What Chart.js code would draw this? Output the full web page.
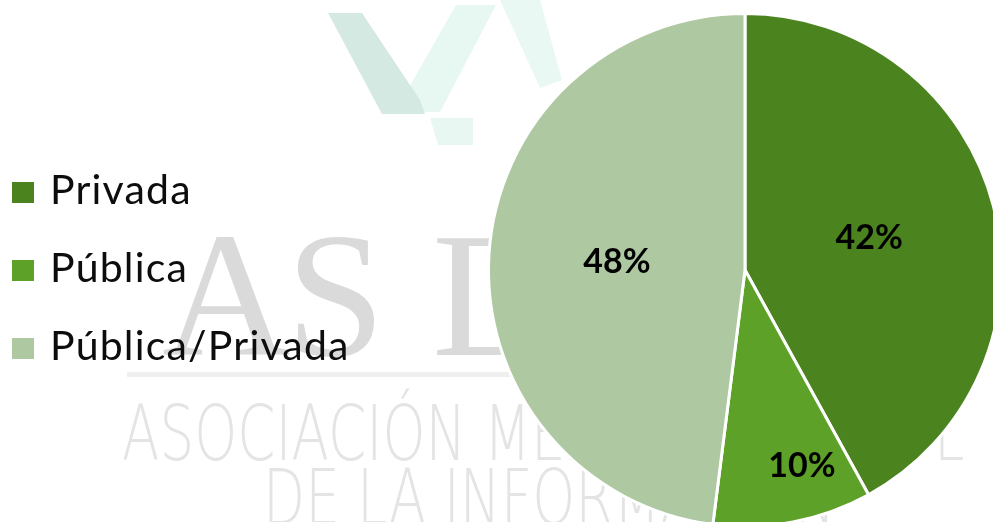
<!DOCTYPE html>
<html>
<head>
<meta charset="utf-8">
<script src="https://cdn.jsdelivr.net/npm/chart.js@4.4.1/dist/chart.umd.min.js"></script>
<style>
  html, body { margin: 0; padding: 0; background: #fff; overflow: hidden; }
  #wrap { position: absolute; left: 0; top: 0; width: 1010px; height: 540px; }
</style>
</head>
<body>
<div id="wrap"><canvas id="pie" width="1010" height="540"></canvas></div>
<script>
// data
const labels = ["Privada", "Pública", "Pública/Privada"];
const shares = [42, 10, 48];
const colors = ["#4b841f", "#5da129", "#aec8a2"];

// faint logo behind the chart (watermark of the source slide)
const watermark = {
    id: "watermark",
    beforeDraw(chart) {
        const ctx = chart.ctx;
        ctx.save();
        // teal mark at the top
        const poly = (pts, fill) => {
            ctx.beginPath();
            ctx.moveTo(pts[0][0], pts[0][1]);
            pts.slice(1).forEach(p => ctx.lineTo(p[0], p[1]));
            ctx.closePath();
            ctx.fillStyle = fill;
            ctx.fill();
        };
        poly([[395, 112], [440, 112], [496, 5], [456, 5]], "#e7f7f2");
        poly([[328, 13], [362, 13], [420, 100], [425, 114], [382, 114]], "#d5e9e3");
        poly([[430, 118], [473, 118], [473, 145], [438, 145]], "#e9f7f3");
        poly([[500, 0], [540, 0], [562, 80], [540, 88]], "#eaf8f4");

        // big serif letters
        ctx.fillStyle = "#dadada";
        ctx.font = "178px 'Liberation Serif', 'DejaVu Serif', serif";
        ctx.textBaseline = "alphabetic";
        ctx.fillText("A", 162, 355);
        ctx.fillText("S", 286, 355);
        ctx.fillText("D", 432, 355);

        // rule under the letters
        ctx.fillStyle = "#efefef";
        ctx.fillRect(127, 372, 420, 5);

        // thin lettering
        ctx.fillStyle = "#e4e4e4";
        ctx.save();
        ctx.scale(0.72, 1);
        ctx.font = "200 76px 'DejaVu Sans', Lato, sans-serif";
        ctx.fillText("ASOCIACIÓN MEXICANA", 122 / 0.72, 460);
        ctx.fillText("L", 934 / 0.72, 460);
        ctx.fillText("DE LA INFORMACIÓN", 263 / 0.72, 524);
        ctx.restore();
        ctx.restore();
    }
};

// legend on the left and percent labels on the slices
const annotate = {
    id: "annotate",
    afterDatasetsDraw(chart, args, opts) {
        const ctx = chart.ctx;
        const ds = chart.data.datasets[0];
        const total = ds.data.reduce((a, b) => a + b, 0);
        ctx.save();

        // slice labels
        ctx.font = "bold 34px Lato, 'Open Sans', sans-serif";
        ctx.fillStyle = "#000";
        ctx.textAlign = "center";
        ctx.textBaseline = "middle";
        chart.getDatasetMeta(0).data.forEach((arc, i) => {
            const p = arc.getProps(["x", "y", "startAngle", "endAngle", "outerRadius"], true);
            const ang = p.startAngle + (p.endAngle - p.startAngle) * opts.along[i];
            const r = p.outerRadius * opts.radial[i];
            const txt = Math.round(ds.data[i] / total * 100) + "%";
            ctx.fillText(txt, p.x + Math.cos(ang) * r, p.y + Math.sin(ang) * r);
        });

        // legend
        ctx.font = "41px Lato, 'Open Sans', sans-serif";
        ctx.letterSpacing = "1.2px";
        ctx.textAlign = "left";
        ctx.textBaseline = "alphabetic";
        chart.data.labels.forEach((lab, i) => {
            const base = opts.legendTop + i * opts.legendStep;
            ctx.fillStyle = ds.backgroundColor[i];
            ctx.fillRect(12, base - 22, 22, 21);
            ctx.fillStyle = "#0d0d0d";
            ctx.fillText(lab, 50, base);
        });
        ctx.restore();
    }
};

new Chart(document.getElementById("pie"), {
    type: "pie",
    data: {
        labels: labels,
        datasets: [{
            data: shares,
            backgroundColor: colors,
            borderColor: "#ffffff",
            borderWidth: 3
        }]
    },
    options: {
        responsive: false,
        animation: false,
        devicePixelRatio: 1,
        layout: { padding: { left: 487, right: 7, top: 12, bottom: 12 } },
        plugins: {
            legend: { display: false },
            tooltip: { enabled: false },
            annotate: {
                radial: [0.5, 0.795, 0.5],
                along: [0.5, 0.35, 0.5],
                legendTop: 204,
                legendStep: 78
            }
        }
    },
    plugins: [watermark, annotate]
});
</script>
</body>
</html>
